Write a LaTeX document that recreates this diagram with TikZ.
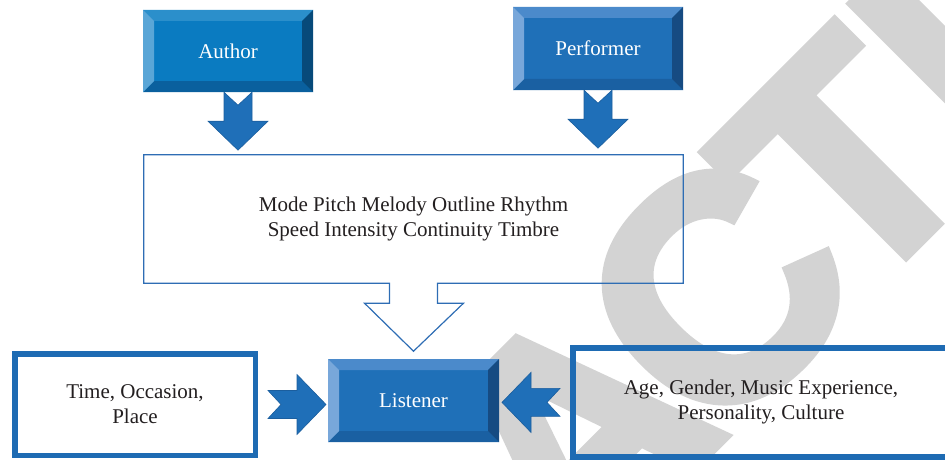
\documentclass[tikz,border=0pt]{standalone}
\usepackage{fontspec}
\setmainfont{Liberation Serif}
\newfontfamily\stampfont{Liberation Sans}[BoldFeatures={FakeBold=3}]
\usetikzlibrary{calc}

\definecolor{stampgray}{HTML}{D3D3D3}
\definecolor{inkgray}{HTML}{231F20}
\definecolor{boxblue}{HTML}{1E6BB3}
\definecolor{calloutblue}{HTML}{2E6DB4}
\definecolor{arrowblue}{HTML}{1F6FB8}
\definecolor{arrowedge}{HTML}{1B5E9E}
% author box
\definecolor{faceA}{HTML}{0A7BC1}
\definecolor{topA}{HTML}{2B8FCB}
\definecolor{leftA}{HTML}{5AA6D7}
\definecolor{rightA}{HTML}{074A7A}
\definecolor{botA}{HTML}{0A609E}
% performer and listener boxes
\definecolor{faceB}{HTML}{1F70B8}
\definecolor{topB}{HTML}{4B8ACB}
\definecolor{leftB}{HTML}{78A7DA}
\definecolor{rightB}{HTML}{164B82}
\definecolor{botB}{HTML}{1A60A2}

\newcommand{\bevelfill}[4]{%
  \fill[#1] (path picture bounding box.north west) -- (path picture bounding box.north east)
    -- ([shift={(-11,11)}]path picture bounding box.north east) -- ([shift={(11,11)}]path picture bounding box.north west) -- cycle;
  \fill[#4] (path picture bounding box.south west) -- (path picture bounding box.south east)
    -- ([shift={(-11,-11)}]path picture bounding box.south east) -- ([shift={(11,-11)}]path picture bounding box.south west) -- cycle;
  \fill[#2] (path picture bounding box.north west) -- ([shift={(11,11)}]path picture bounding box.north west)
    -- ([shift={(11,-11)}]path picture bounding box.south west) -- (path picture bounding box.south west) -- cycle;
  \fill[#3] (path picture bounding box.north east) -- ([shift={(-11,11)}]path picture bounding box.north east)
    -- ([shift={(-11,-11)}]path picture bounding box.south east) -- (path picture bounding box.south east) -- cycle;
}

\begin{document}
\begin{tikzpicture}[x=1pt,y=-1pt,
    every node/.style={font=\fontsize{21}{25}\selectfont, inner sep=0pt},
    bevel/.style n args={5}{fill=#1, text=white, path picture={\bevelfill{#2}{#3}{#4}{#5}}},
    textbox/.style={draw=boxblue, line width=5.5pt, text=inkgray, align=center},
    stamp/.style={text=stampgray, font=\stampfont\bfseries\fontsize{315}{320}\selectfont},
    blockarrow/.style={fill=arrowblue, draw=arrowedge, line width=0.6pt},
    notcharrow/.pic={
      \filldraw[blockarrow] (-14,0) -- (0,13) -- (14,0) -- (14,29) -- (30,29)
        -- (0,58) -- (-30,29) -- (-14,29) -- cycle;
    }]
\useasboundingbox (0,0) rectangle (945,460);

% watermark
\begin{scope}
  \clip (0,0) rectangle (945,460);
  \node[stamp, rotate=45, anchor=base west] (stampword) at (854,308) {\llap{RETRA\kern-26pt C\kern-28pt}TED};
\end{scope}

% sources
\node[bevel={faceA}{topA}{leftA}{rightA}{botA}, minimum width=170pt, minimum height=82pt] (author) at (228,51) {Author};
\node[bevel={faceB}{topB}{leftB}{rightB}{botB}, minimum width=170pt, minimum height=83pt] (performer) at (598,48.5) {Performer};

% elements of the music
\node[text=inkgray, align=center, minimum width=539pt, minimum height=128pt] (props) at (413.5,219)
  {Mode Pitch Melody Outline Rhythm\\Speed Intensity Continuity Timbre};
\draw[calloutblue, line width=1.2pt, line join=miter]
  (props.south west) |- (props.north east) |- ([xshift=24pt]props.south)
  -- ++(0,20) -- ++(26,0) -- ++(-50,48) -- ++(-49,-48) -- ++(25,0) -- ++(0,-20) -- cycle;

% listener and the factors
\node[bevel={faceB}{topB}{leftB}{rightB}{botB}, minimum width=171pt, minimum height=83pt] (listener) at (413.5,400.5) {Listener};
\node[textbox, minimum width=240.5pt, minimum height=101.5pt] (time) at (135,404.5) {Time, Occasion,\\Place};
\node[textbox, minimum width=376.5pt, minimum height=109.25pt] (factors) at (761,402.4) {Age, Gender, Music Experience,\\Personality, Culture};

% block arrows
\pic at ([xshift=10pt]author.south) {notcharrow};
\pic at (performer.south) {notcharrow};
\pic[rotate=90] at ([xshift=10pt]time.east) {notcharrow};
\pic[rotate=-90] at ([xshift=-10pt]factors.west) {notcharrow};
\end{tikzpicture}
\end{document}
